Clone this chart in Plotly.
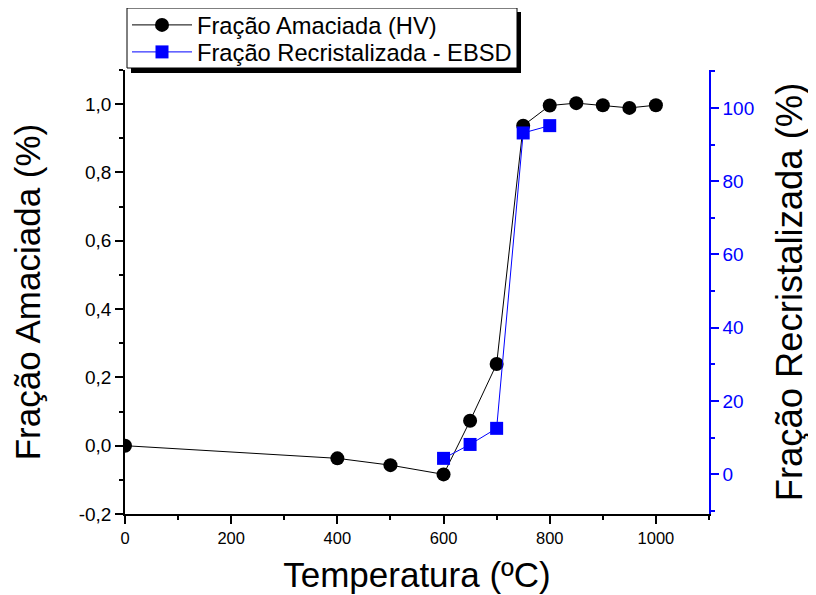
import plotly.graph_objects as go

# ---- data ----
temp_hv = [0, 400, 500, 600, 650, 700, 750, 800, 850, 900, 950, 1000]
frac_amaciada = [0.0, -0.037, -0.057, -0.084, 0.073, 0.239, 0.937, 0.996, 1.003, 0.997, 0.989, 0.997]

temp_ebsd = [600, 650, 700, 750, 800]
frac_recrist = [4.3, 8.1, 12.5, 93.2, 95.2]

y1_tickvals = [-0.2, 0.0, 0.2, 0.4, 0.6, 0.8, 1.0]
y1_ticktext = ["-0,2", "0,0", "0,2", "0,4", "0,6", "0,8", "1,0"]
x_tickvals = [0, 200, 400, 600, 800, 1000]
y2_tickvals = [0, 20, 40, 60, 80, 100]

name_hv = "Fração Amaciada (HV)"
name_ebsd = "Fração Recristalizada - EBSD"

FONT = "Liberation Sans, Arial, sans-serif"
BLUE = "#0000FF"

fig = go.Figure()
fig.add_trace(go.Scatter(
    x=temp_hv, y=frac_amaciada, name=name_hv, mode="lines+markers",
    line=dict(color="black", width=1),
    marker=dict(symbol="circle", size=14, color="black"),
    xaxis="x", yaxis="y", legend="legend"))
fig.add_trace(go.Scatter(
    x=temp_ebsd, y=frac_recrist, name=name_ebsd, mode="lines+markers",
    line=dict(color=BLUE, width=1),
    marker=dict(symbol="square", size=13, color=BLUE),
    xaxis="x", yaxis="y2", legend="legend2"))

# page body has an 8px margin, so the figure is sized to fit the window
W, H = 808, 587
L, R, T, B = 117, 107, 62, 81
pw, ph = W - L - R, H - T - B

def px_x(p):
    return (p - L) / pw

def px_y(p):
    return (H - B - p) / ph

legend_common = dict(
    xanchor="left", yanchor="top",
    bgcolor="rgba(0,0,0,0)", borderwidth=0,
    font=dict(size=23.7, family=FONT, color="black"), itemwidth=60)

fig.update_layout(
    width=W, height=H,
    margin=dict(l=L, r=R, t=T, b=B, autoexpand=False),
    plot_bgcolor="white", paper_bgcolor="white",
    font=dict(family=FONT, color="black"),
    showlegend=True,
    legend=dict(x=px_x(119), y=px_y(-5), **legend_common),
    legend2=dict(x=px_x(119), y=px_y(22), **legend_common),
    xaxis=dict(
        range=[0, 1100], tickmode="array", tickvals=x_tickvals,
        showline=True, linecolor="black", linewidth=1.5,
        ticks="outside", ticklen=8, tickwidth=1.5, tickcolor="black",
        minor=dict(tickmode="linear", tick0=0, dtick=100, ticks="outside",
                   ticklen=4, tickwidth=1.5, tickcolor="black"),
        tickfont=dict(size=16.5), showgrid=False, zeroline=False,
        title=dict(text="Temperatura (ºC)", font=dict(size=35), standoff=17)),
    xaxis2=dict(
        range=[0, 1100], overlaying="x", side="top", anchor="y",
        tickmode="array", tickvals=x_tickvals,
        showline=True, linecolor="black", linewidth=1.5,
        ticks="inside", ticklen=8, tickwidth=1.5, tickcolor="black",
        minor=dict(tickmode="linear", tick0=0, dtick=100, ticks="inside",
                   ticklen=5, tickwidth=1.5, tickcolor="black"),
        showticklabels=False, showgrid=False, zeroline=False),
    yaxis=dict(
        range=[-0.2, 1.1], tickmode="array", tickvals=y1_tickvals, ticktext=y1_ticktext,
        showline=True, linecolor="black", linewidth=1.5,
        ticks="outside", ticklen=8, tickwidth=1.5, tickcolor="black",
        minor=dict(tickmode="linear", tick0=0, dtick=0.1, ticks="outside",
                   ticklen=4, tickwidth=1.5, tickcolor="black"),
        tickfont=dict(size=19), showgrid=False, zeroline=False,
        title=dict(text="Fração Amaciada (%)", font=dict(size=35), standoff=31)),
    yaxis2=dict(
        range=[-10.9, 110.4], overlaying="y", side="right", anchor="x",
        tickmode="array", tickvals=y2_tickvals,
        showline=True, linecolor=BLUE, linewidth=1.5,
        ticks="outside", ticklen=8, tickwidth=1.5, tickcolor=BLUE,
        minor=dict(tickmode="linear", tick0=0, dtick=10, ticks="outside",
                   ticklen=4, tickwidth=1.5, tickcolor=BLUE),
        tickfont=dict(size=19, color=BLUE), showgrid=False, zeroline=False,
        title=dict(text="Fração Recristalizada (%)", font=dict(size=36.4, color="black"), standoff=23)),
    shapes=[
        # legend shadow
        dict(type="rect", xref="paper", yref="paper", layer="above",
             x0=px_x(123), x1=px_x(513), y0=px_y(65), y1=px_y(4),
             fillcolor="black", line=dict(width=0)),
        # legend box
        dict(type="rect", xref="paper", yref="paper", layer="above",
             x0=px_x(119), x1=px_x(509), y0=px_y(60), y1=px_y(0),
             fillcolor="white", line=dict(color="black", width=1)),
    ],
)

fig.write_html("out.html")
